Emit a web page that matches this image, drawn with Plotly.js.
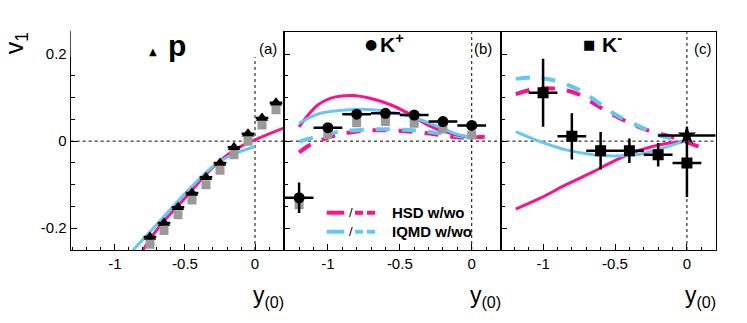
<!DOCTYPE html>
<html>
<head>
<meta charset="utf-8">
<script src="https://cdn.plot.ly/plotly-3.0.1.min.js"></script>
<style>
  html, body { margin: 0; padding: 0; background: #fff; }
  #plot { width: 747px; height: 323px; }
</style>
</head>
<body>
<div id="plot"></div>
<script>
// ---- data ----

// (a) protons
const pX = [-0.75, -0.65, -0.55, -0.45, -0.35, -0.25, -0.15, -0.05, 0.05, 0.15];
const pV = [-0.220, -0.188, -0.152, -0.119, -0.083, -0.050, -0.014, 0.017, 0.053, 0.088];
const pVgray = [-0.237, -0.205, -0.169, -0.135, -0.100, -0.067, -0.031, 0.000, 0.037, 0.072];
const pXerr = [0.045, 0.045, 0.045, 0.045, 0.045, 0.045, 0.045, 0.045, 0.045, 0.045];

const hsdA_x = [-0.80, -0.68, -0.49, -0.30, -0.155, 0.0, 0.205];
const hsdA_v = [-0.250, -0.195, -0.127, -0.060, -0.022, 0.003, 0.030];
const iqmdA_x = [-0.87, -0.68, -0.49, -0.30, -0.155, 0.0];
const iqmdA_v = [-0.250, -0.184, -0.117, -0.058, -0.030, -0.013];

// (b) K+
const kpX = [-1.2, -1.0, -0.8, -0.6, -0.4, -0.2, 0.0];
const kpV = [-0.130, 0.031, 0.062, 0.064, 0.060, 0.045, 0.036];
const kpVgray = [-0.146, 0.015, 0.042, 0.045, 0.041, 0.028, 0.014];
const kpXerr = [0.1, 0.1, 0.1, 0.1, 0.1, 0.1, 0.1];
const kpYerr = [0.035, 0, 0, 0, 0, 0, 0];

const hsdB_x = [-1.2, -1.07, -0.955, -0.83, -0.70, -0.56, -0.42, -0.305, -0.19, -0.05, 0.0];
const hsdB_v = [0.033, 0.083, 0.101, 0.105, 0.098, 0.083, 0.060, 0.037, 0.022, 0.011, 0.010];
const iqmdB_x = [-1.2, -1.07, -0.955, -0.77, -0.61, -0.42, -0.26, -0.12, 0.0];
const iqmdB_v = [0.041, 0.062, 0.069, 0.073, 0.069, 0.056, 0.037, 0.018, 0.008];
const hsdB0_x = [-1.2, -1.12, -0.955, -0.75, -0.51, -0.28, -0.10, 0.09];
const hsdB0_v = [-0.026, -0.008, 0.012, 0.024, 0.024, 0.017, 0.009, 0.010];
const iqmdB0_x = [-1.2, -1.07, -0.91, -0.70, -0.47, -0.26, -0.07, 0.0];
const iqmdB0_v = [-0.001, 0.011, 0.022, 0.027, 0.026, 0.020, 0.011, 0.009];

// (c) K-
const kmX = [-1.0, -0.8, -0.6, -0.4, -0.2, 0.0];
const kmV = [0.111, 0.011, -0.022, -0.022, -0.031, -0.050];
const kmXerr = [0.1, 0.1, 0.1, 0.1, 0.1, 0.1];
const kmYerr = [0.078, 0.053, 0.043, 0.028, 0.027, 0.078];
const starX = [0.0];
const starV = [0.013];
const starXerr = [0.2];
const starYerr = [0.02];

const hsdC_x = [-1.19, -1.02, -0.84, -0.65, -0.49, -0.33, -0.17, -0.05, 0.0];
const hsdC_v = [-0.156, -0.131, -0.100, -0.070, -0.043, -0.021, -0.007, -0.002, 0.0];
const iqmdC_x = [-1.19, -1.02, -0.84, -0.65, -0.49, -0.33, -0.17, -0.02];
const iqmdC_v = [0.022, -0.001, -0.020, -0.031, -0.034, -0.030, -0.016, 0.0];
const hsdC0_x = [-1.19, -1.07, -0.93, -0.77, -0.61, -0.42, -0.28, -0.08, 0.09];
const hsdC0_v = [0.108, 0.119, 0.121, 0.110, 0.079, 0.045, 0.026, 0.007, -0.014];
const iqmdC0_x = [-1.19, -1.07, -0.93, -0.745, -0.61, -0.49, -0.33, -0.17, -0.02];
const iqmdC0_v = [0.143, 0.146, 0.140, 0.117, 0.087, 0.060, 0.034, 0.011, 0.003];

// ---- styles ----
const PINK = '#f7148c';
const BLUE = '#66c8f2';
const GRAY = '#9a9a9a';
const FONT = 'Liberation Sans, Arial, sans-serif';

function curve(x, y, color, dashed, xa, ya) {
  return {
    x: x, y: y, xaxis: xa, yaxis: ya,
    mode: 'lines', type: 'scatter',
    line: { color: color, width: dashed ? 4 : 3, dash: dashed ? '14px,12px' : 'solid', shape: 'spline', smoothing: 1 },
    hoverinfo: 'none', showlegend: false
  };
}

function points(x, y, symbol, size, color, xa, ya, xerr, yerr) {
  const t = {
    x: x, y: y, xaxis: xa, yaxis: ya,
    mode: 'markers', type: 'scatter',
    marker: { symbol: symbol, size: size, color: color, line: { width: 0 } },
    hoverinfo: 'none', showlegend: false
  };
  if (xerr) t.error_x = { type: 'data', array: xerr, visible: true, color: '#000', thickness: 2.5, width: 0 };
  if (yerr) t.error_y = { type: 'data', array: yerr, visible: true, color: '#000', thickness: 2.5, width: 0 };
  return t;
}

const traces = [
  // (a)
  curve(hsdA_x, hsdA_v, PINK, false, 'x', 'y'),
  curve(iqmdA_x, iqmdA_v, BLUE, false, 'x', 'y'),
  points(pX, pVgray, 'square', 9, GRAY, 'x', 'y'),
  points(pX, pV, 'triangle-up', 11, '#000', 'x', 'y', pXerr),
  // (b)
  curve(hsdB0_x, hsdB0_v, PINK, true, 'x2', 'y2'),
  curve(iqmdB0_x, iqmdB0_v, BLUE, true, 'x2', 'y2'),
  curve(hsdB_x, hsdB_v, PINK, false, 'x2', 'y2'),
  curve(iqmdB_x, iqmdB_v, BLUE, false, 'x2', 'y2'),
  points(kpX, kpVgray, 'square', 9, GRAY, 'x2', 'y2'),
  points(kpX, kpV, 'circle', 11, '#000', 'x2', 'y2', kpXerr, kpYerr),
  // (c)
  curve(hsdC0_x, hsdC0_v, PINK, true, 'x3', 'y3'),
  curve(iqmdC0_x, iqmdC0_v, BLUE, true, 'x3', 'y3'),
  curve(hsdC_x, hsdC_v, PINK, false, 'x3', 'y3'),
  curve(iqmdC_x, iqmdC_v, BLUE, false, 'x3', 'y3'),
  points(kmX, kmV, 'square', 11, '#000', 'x3', 'y3', kmXerr, kmYerr),
  points(starX, starV, 'star', 14, '#000', 'x3', 'y3', starXerr, starYerr),
  // empty trace, only so the short title axis for v1 gets drawn
  { x: [], y: [], xaxis: 'x', yaxis: 'y4', type: 'scatter', mode: 'markers', showlegend: false, hoverinfo: 'none' }
];

const W = 747, H = 323;
const px = v => v / W;
const py = v => 1 - v / H;
const yDom = [py(250), py(32.3)];

function xAxis(domain, range, anchor) {
  return {
    domain: domain, range: range, anchor: anchor,
    showgrid: false, zeroline: false,
    showline: true, linecolor: '#000', linewidth: 1, mirror: true,
    ticks: 'inside', ticklen: 6, tickwidth: 1, tickcolor: '#000',
    tickvals: [-1, -0.5, 0], ticktext: ['-1', '-0.5', '0'],
    minor: { dtick: 0.1, tick0: 0, ticks: 'inside', ticklen: 3, tickcolor: '#000', tickwidth: 1 },
    tickfont: { family: FONT, size: 15, color: '#000' }
  };
}
function yAxis(anchor, labels) {
  return {
    domain: yDom, range: [-0.25, 0.25], anchor: anchor,
    showgrid: false, zeroline: false,
    showline: true, linecolor: '#000', linewidth: 1, mirror: true,
    ticks: 'inside', ticklen: 6, tickwidth: 1, tickcolor: '#000',
    tickvals: [-0.2, 0, 0.2], ticktext: ['-0.2', '0', '0.2'],
    showticklabels: labels,
    minor: { dtick: 0.05, tick0: 0, ticks: 'inside', ticklen: 4, tickcolor: '#000', tickwidth: 1 },
    tickfont: { family: FONT, size: 15, color: '#000' }
  };
}

const shapes = [];
['', '2', '3'].forEach(n => {
  shapes.push({ type: 'line', xref: 'x' + n, yref: 'y' + n + ' domain', x0: 0, x1: 0, y0: 0, y1: 1,
    line: { color: '#000', width: 1, dash: 'dot' }, layer: 'below' });
  shapes.push({ type: 'line', xref: 'x' + n + ' domain', yref: 'y' + n, x0: 0, x1: 1, y0: 0, y1: 0,
    line: { color: '#000', width: 1, dash: 'dot' }, layer: 'below' });
});
// legend samples in panel (b)
shapes.push(
  { type: 'line', xref: 'paper', yref: 'paper', x0: px(326.7), x1: px(344.3), y0: py(212.7), y1: py(212.7), line: { color: PINK, width: 4 } },
  { type: 'line', xref: 'paper', yref: 'paper', x0: px(355), x1: px(375), y0: py(212.7), y1: py(212.7), line: { color: PINK, width: 4, dash: '8px,4px' } },
  { type: 'line', xref: 'paper', yref: 'paper', x0: px(326.7), x1: px(344.3), y0: py(231.7), y1: py(231.7), line: { color: BLUE, width: 4 } },
  { type: 'line', xref: 'paper', yref: 'paper', x0: px(355), x1: px(375), y0: py(231.7), y1: py(231.7), line: { color: BLUE, width: 4, dash: '8px,4px' } }
);

function note(text, x, y, size, opts) {
  return Object.assign({
    text: text, xref: 'paper', yref: 'paper', x: px(x), y: py(y),
    xanchor: 'center', yanchor: 'middle', showarrow: false,
    font: { family: FONT, size: size, color: '#000' }
  }, opts || {});
}

const annotations = [
  note('<b>HSD w/wo</b>', 390, 212.7, 15, { xanchor: 'left' }),
  note('<b>IQMD w/wo</b>', 390, 231.7, 15, { xanchor: 'left' }),
  note('/', 350.5, 212.7, 13),
  note('/', 350.5, 231.7, 13),
  note('\u25B2', 153, 52, 11, { font: { family: 'DejaVu Sans', size: 10, color: '#000' } }),
  note('<b>p</b>', 177, 46, 30),
  note('(a)', 268, 48.5, 15),
  note('\u25CF', 370.5, 44, 14, { font: { family: 'DejaVu Sans', size: 14, color: '#000' } }),
  note('<b>K<sup>+</sup></b>', 392, 43, 21),
  note('(b)', 482.5, 48.5, 15),
  note('\u25A0', 589, 44, 13, { font: { family: 'DejaVu Sans', size: 13, color: '#000' } }),
  note('<b>K<sup>-</sup></b>', 612, 43, 21),
  note('(c)', 702.5, 48.5, 15)
];
['', '2', '3'].forEach(n => {
  annotations.push({
    text: 'y<sub>(0)</sub>', xref: 'x' + n, yref: 'paper', x: 0, y: py(296),
    xanchor: 'left', yanchor: 'middle', xshift: -4, showarrow: false,
    font: { family: FONT, size: 23, color: '#000' }
  });
});

const layout = {
  width: W, height: H,
  margin: { l: 0, r: 0, t: 0, b: 0 },
  paper_bgcolor: '#fff', plot_bgcolor: '#fff',
  showlegend: false,
  xaxis: xAxis([px(70.7), px(284)], [-1.316, 0.207], 'y'),
  xaxis2: xAxis([px(284), px(500.5)], [-1.305, 0.2], 'y2'),
  xaxis3: xAxis([px(500.5), px(715.7)], [-1.296, 0.2], 'y3'),
  yaxis: yAxis('x', true),
  yaxis2: yAxis('x2', false),
  yaxis3: yAxis('x3', false),
  // short invisible axis at the top left that only carries the rotated v1 title
  yaxis4: {
    domain: [py(57), py(29)], anchor: 'free', position: px(29), range: [0, 1],
    showline: false, showgrid: false, zeroline: false, ticks: '', showticklabels: false,
    title: { text: 'v<sub>1</sub>', font: { family: FONT, size: 25, color: '#000' }, standoff: 0 }
  },
  shapes: shapes,
  annotations: annotations
};

Plotly.newPlot('plot', traces, layout, { staticPlot: true, displayModeBar: false });
</script>
</body>
</html>
